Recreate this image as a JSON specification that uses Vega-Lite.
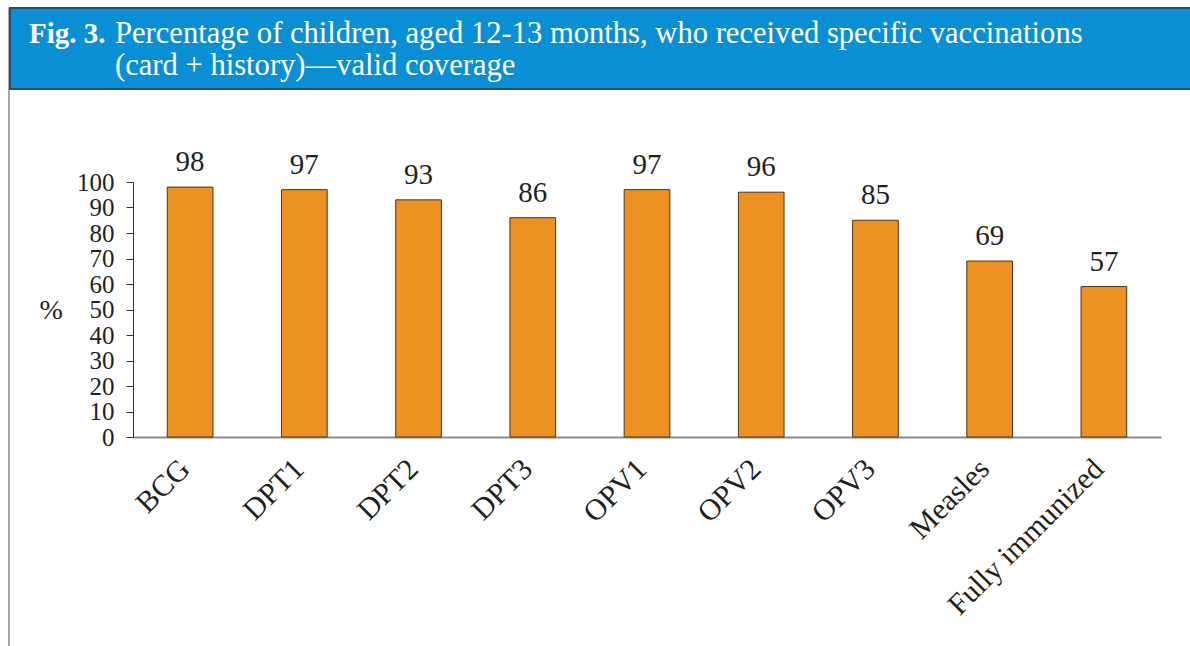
{
  "$schema": "https://vega.github.io/schema/vega-lite/v6.json",
  "background": "white",
  "padding": {"left": 8, "top": 7, "right": 0, "bottom": 0},
  "spacing": -2,
  "config": {
    "font": "Liberation Serif",
    "view": {"stroke": null},
    "text": {"font": "Liberation Serif", "color": "#231f20"}
  },
  "hconcat": [
    {
      "width": 2,
      "height": 639,
      "view": {"fill": "#a8a8a8", "stroke": null},
      "data": {"values": [{}]},
      "mark": {"type": "text", "text": ""},
      "encoding": {}
    },
    {
      "spacing": 0,
      "vconcat": [
        {
          "width": 1182,
          "height": 81,
          "view": {"fill": "#0b8fd4", "stroke": "#22506e", "strokeWidth": 2},
          "data": {"values": [{}]},
          "layer": [
            {
              "mark": {"type": "text", "text": "Fig. 3.", "fontWeight": "bold", "fontSize": 29, "color": "white", "align": "left", "baseline": "alphabetic"},
              "encoding": {"x": {"value": 19}, "y": {"value": 35}}
            },
            {
              "mark": {"type": "text", "text": "Percentage of children, aged 12-13 months, who received specific vaccinations", "fontSize": 30.6, "color": "white", "align": "left", "baseline": "alphabetic"},
              "encoding": {"x": {"value": 105}, "y": {"value": 35}}
            },
            {
              "mark": {"type": "text", "text": "(card + history)—valid coverage", "fontSize": 30.6, "color": "white", "align": "left", "baseline": "alphabetic"},
              "encoding": {"x": {"value": 105}, "y": {"value": 67}}
            }
          ]
        },
        {
          "spacing": 28,
          "hconcat": [
            {
              "width": 1,
              "height": 1,
              "data": {"values": [{}]},
              "mark": {"type": "text", "text": ""},
              "encoding": {}
            },
            {
              "width": 1028,
              "height": 255,
              "title": {"text": " ", "fontSize": 2, "offset": 56},
              "data": {
                "values": [
                  {"vaccine": "BCG", "bar": 98, "label": 98},
                  {"vaccine": "DPT1", "bar": 97, "label": 97},
                  {"vaccine": "DPT2", "bar": 93, "label": 93},
                  {"vaccine": "DPT3", "bar": 86, "label": 86},
                  {"vaccine": "OPV1", "bar": 97, "label": 97},
                  {"vaccine": "OPV2", "bar": 96, "label": 96},
                  {"vaccine": "OPV3", "bar": 85, "label": 85},
                  {"vaccine": "Measles", "bar": 69, "label": 69},
                  {"vaccine": "Fully immunized", "bar": 59, "label": 57}
                ]
              },
              "encoding": {
                "x": {
                  "field": "vaccine",
                  "type": "nominal",
                  "sort": null,
                  "scale": {"paddingInner": 0.6, "paddingOuter": 0.3},
                  "axis": {
                    "title": null,
                    "labelAngle": -45,
                    "labelAlign": "right",
                    "labelBaseline": "middle",
                    "labelFont": "Liberation Serif",
                    "labelFontSize": 30,
                    "labelColor": "#231f20",
                    "labelPadding": 27,
                    "labelOffset": -5,
                    "labelLimit": 400,
                    "labelOverlap": false,
                    "ticks": false,
                    "domainColor": "#8c8c8c",
                    "domainWidth": 2
                  }
                },
                "y": {
                  "field": "bar",
                  "type": "quantitative",
                  "scale": {"domain": [0, 100], "nice": false},
                  "axis": {
                    "title": "%",
                    "titleAngle": 0,
                    "titleX": -94,
                    "titleY": 128,
                    "titleAlign": "left",
                    "titleBaseline": "middle",
                    "titleFont": "Liberation Serif",
                    "titleFontSize": 28,
                    "titleFontWeight": "normal",
                    "titleColor": "#231f20",
                    "values": [0, 10, 20, 30, 40, 50, 60, 70, 80, 90, 100],
                    "labelFont": "Liberation Serif",
                    "labelFontSize": 25,
                    "labelColor": "#231f20",
                    "labelPadding": 12,
                    "labelOverlap": false,
                    "labelFlush": false,
                    "tickSize": 7,
                    "tickColor": "#333333",
                    "domainColor": "#333333",
                    "grid": false
                  }
                }
              },
              "layer": [
                {
                  "mark": {"type": "bar", "fill": "#ec9122", "stroke": "#4a3520", "strokeWidth": 1}
                },
                {
                  "mark": {"type": "text", "fontSize": 29, "baseline": "alphabetic", "dy": -16},
                  "encoding": {"text": {"field": "label", "type": "quantitative"}}
                }
              ]
            }
          ]
        }
      ]
    }
  ]
}
